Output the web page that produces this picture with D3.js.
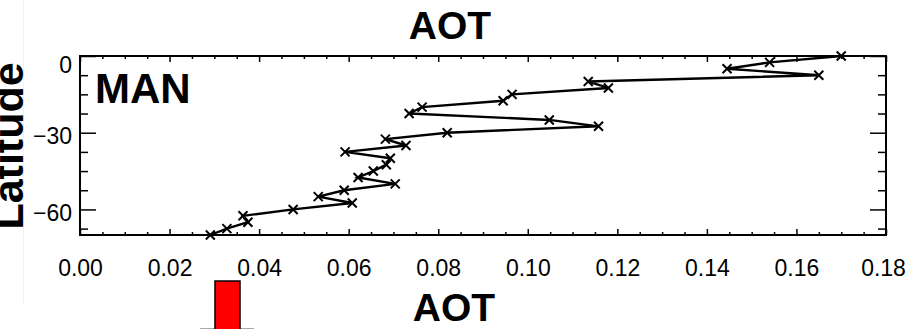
<!DOCTYPE html>
<html>
<head>
<meta charset="utf-8">
<script src="https://cdn.jsdelivr.net/npm/d3@7"></script>
<style>
  body { margin: 0; background: #fff; }
  svg { display: block; }
  .tick text { font-family: "Liberation Sans", Arial, sans-serif; font-size: 23px; fill: #000; }
  .title { font-family: "Liberation Sans", Arial, sans-serif; font-weight: bold; fill: #000; }
</style>
</head>
<body>
<svg id="chart" width="908" height="329"></svg>
<script>
(function() {

  // latitude of each sample (deg)
  var latitude = [0, -2.5, -5, -7.5, -10, -12.5, -15, -17.5, -20, -22.5, -25, -27.5, -30, -32.5,
                  -35, -37.5, -40, -42.5, -45, -47.5, -50, -52.5, -55, -57.5, -60, -62.5, -65, -67.5, -70];
  // AOT
  var aot = [0.170, 0.154, 0.1445, 0.165, 0.1135, 0.118, 0.0965, 0.0945, 0.0764, 0.0735, 0.1048,
             0.1158, 0.082, 0.0682, 0.0728, 0.0592, 0.0693, 0.0684, 0.0655, 0.0621, 0.0704, 0.059,
             0.0532, 0.0608, 0.0476, 0.0364, 0.0375, 0.0328, 0.0291];

  var xMajor = [0, 0.02, 0.04, 0.06, 0.08, 0.10, 0.12, 0.14, 0.16, 0.18];
  var xMinor = [0.005, 0.01, 0.015, 0.025, 0.03, 0.035, 0.045, 0.05, 0.055, 0.065, 0.07, 0.075,
                0.085, 0.09, 0.095, 0.105, 0.11, 0.115, 0.125, 0.13, 0.135, 0.145, 0.15, 0.155,
                0.165, 0.17, 0.175];
  var yMajor = [0, -30, -60];
  var yMinor = [-7.5, -15, -22.5, -37.5, -45, -52.5, -67.5];

  var data = latitude.map((lat, i) => ({lat : lat, aot : aot[i]}));

  var svg = d3.select("#chart");
  var left = 80, right = 886, top = 56, bottom = 235;

  var x = d3.scaleLinear().domain([0, 0.18]).range([left, right]);
  var y = d3.scaleLinear().domain([-70, 0]).range([bottom, top]);

  // faint leftovers of the neighbouring panels
  svg.append("line")
    .attr("x1", 23.5).attr("x2", 23.5).attr("y1", 0).attr("y2", 305)
    .attr("stroke", "#f2f2f2").attr("stroke-width", 1);

  // titles
  svg.append("text").attr("class", "title")
    .attr("x", 450).attr("y", 39).attr("text-anchor", "middle")
    .style("font-size", "39px").text("AOT");

  svg.append("text").attr("class", "title")
    .attr("x", 454).attr("y", 321).attr("text-anchor", "middle")
    .style("font-size", "39px").text("AOT");

  svg.append("text").attr("class", "title")
    .attr("transform", "translate(23,146) rotate(-90)")
    .attr("text-anchor", "middle")
    .style("font-size", "43px").text("Latitude");

  // axes: bottom/left labelled, top/right only ticks
  var fmt = d3.format(".2f");

  svg.append("g")
    .attr("transform", "translate(0," + bottom + ")")
    .call(d3.axisBottom(x).tickValues(xMajor).tickSize(-6).tickPadding(25).tickFormat(fmt))
    .call(g => g.select(".domain").remove())
    .call(g => g.selectAll(".tick text").attr("dx", d => d === 0.18 ? "-3" : "0"));
  svg.append("g")
    .attr("transform", "translate(0," + bottom + ")")
    .call(d3.axisBottom(x).tickValues(xMinor).tickSize(-3).tickFormat(""))
    .call(g => g.select(".domain").remove());
  svg.append("g")
    .attr("transform", "translate(0," + top + ")")
    .call(d3.axisTop(x).tickValues(xMajor).tickSize(-6).tickFormat(""))
    .call(g => g.select(".domain").remove());
  svg.append("g")
    .attr("transform", "translate(0," + top + ")")
    .call(d3.axisTop(x).tickValues(xMinor).tickSize(-3).tickFormat(""))
    .call(g => g.select(".domain").remove());

  svg.append("g")
    .attr("transform", "translate(" + left + ",0)")
    .call(d3.axisLeft(y).tickValues(yMajor).tickSize(-16).tickPadding(8).tickFormat(d3.format("d")))
    .call(g => g.select(".domain").remove())
    .call(g => g.selectAll(".tick text").attr("dy", d => d === 0 ? "0.72em" : "0.47em"));
  svg.append("g")
    .attr("transform", "translate(" + left + ",0)")
    .call(d3.axisLeft(y).tickValues(yMinor).tickSize(-8).tickFormat(""))
    .call(g => g.select(".domain").remove());
  svg.append("g")
    .attr("transform", "translate(" + right + ",0)")
    .call(d3.axisRight(y).tickValues(yMajor).tickSize(-16).tickFormat(""))
    .call(g => g.select(".domain").remove());
  svg.append("g")
    .attr("transform", "translate(" + right + ",0)")
    .call(d3.axisRight(y).tickValues(yMinor).tickSize(-8).tickFormat(""))
    .call(g => g.select(".domain").remove());

  svg.selectAll(".tick line").attr("stroke", "#000").attr("stroke-width", 1.5);

  // frame
  svg.append("rect")
    .attr("x", left).attr("y", top)
    .attr("width", right - left).attr("height", bottom - top)
    .attr("fill", "none").attr("stroke", "#000").attr("stroke-width", 2);

  // profile line
  var line = d3.line().x(d => x(d.aot)).y(d => y(d.lat));
  svg.append("path")
    .datum(data)
    .attr("d", line)
    .attr("fill", "none")
    .attr("stroke", "#000")
    .attr("stroke-width", 2.4);

  // x markers
  var s = 4.5;
  svg.append("g").selectAll("path.mark")
    .data(data)
    .enter().append("path")
    .attr("class", "mark")
    .attr("d", d => {
      var cx = x(d.aot), cy = y(d.lat);
      return "M" + (cx - s) + "," + (cy - s) + "L" + (cx + s) + "," + (cy + s) +
             "M" + (cx - s) + "," + (cy + s) + "L" + (cx + s) + "," + (cy - s);
    })
    .attr("stroke", "#000")
    .attr("stroke-width", 2);

  svg.append("text").attr("class", "title")
    .attr("x", 95).attr("y", 103)
    .style("font-size", "42px").text("MAN");

  // clipped bar of the panel below
  svg.append("line")
    .attr("x1", 200).attr("x2", 254).attr("y1", 328.5).attr("y2", 328.5)
    .attr("stroke", "#aaa").attr("stroke-width", 1);
  svg.append("rect")
    .attr("x", 215).attr("y", 281).attr("width", 25).attr("height", 60)
    .attr("fill", "#ff0000").attr("stroke", "#000").attr("stroke-width", 1.5);

})();
</script>
</body>
</html>
